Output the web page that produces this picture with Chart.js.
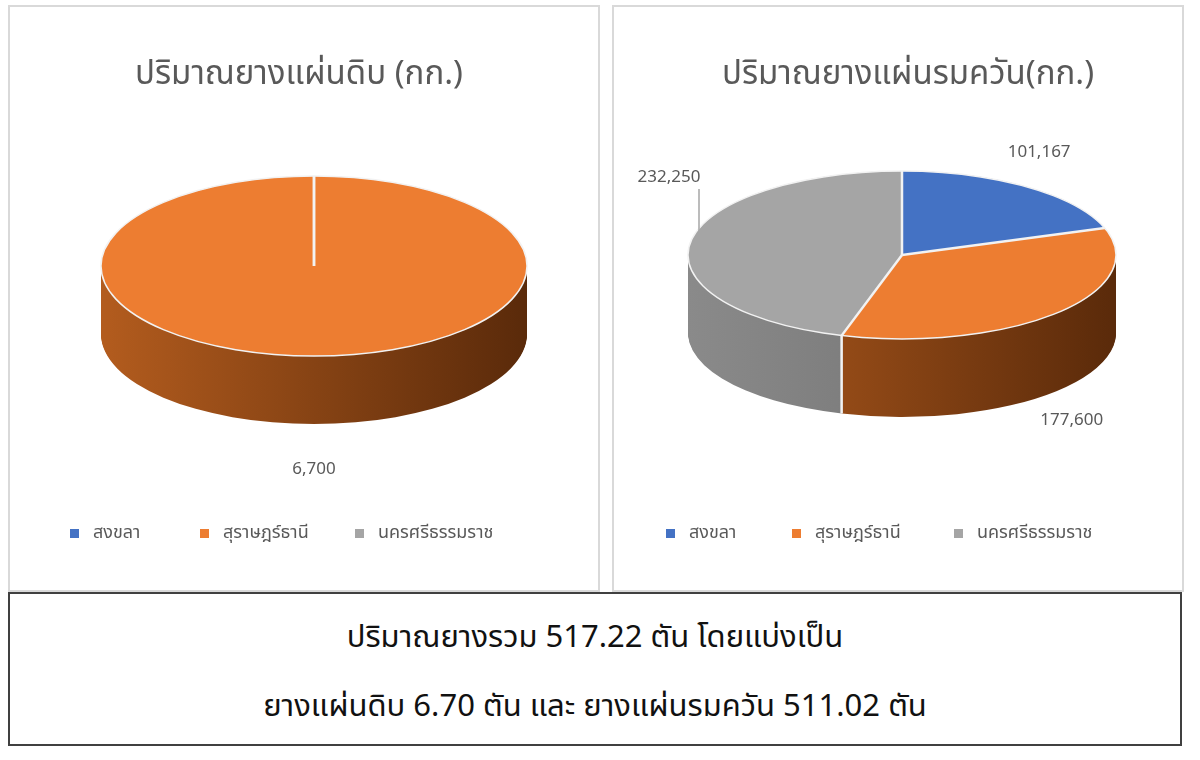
<!DOCTYPE html>
<html><head><meta charset="utf-8">
<script src="https://cdn.jsdelivr.net/npm/chart.js@4/dist/chart.umd.min.js"></script>
<style>
body{margin:0;background:#fff;font-family:"Noto Sans Thai","Noto Sans","DejaVu Sans",sans-serif;}
.box{position:absolute;border:2px solid #d9d9d9;background:#fff;}
.title{position:absolute;left:0;right:0;text-align:center;font-size:33px;color:#595959;}
.legend{position:absolute;top:512px;font-size:18px;color:#595959;}
.legend span{position:absolute;white-space:nowrap;}
.legend i{display:inline-block;width:9px;height:9px;margin-right:14px;vertical-align:middle;}
canvas{position:absolute;left:0;top:0;}
#summary{position:absolute;left:8px;top:592px;width:1170px;height:150px;border:2px solid #404040;text-align:center;font-size:31px;color:#111;}
</style></head><body>
<div class="box" style="left:8px;top:5px;width:588px;height:583px">
  <div style="position:absolute;left:0;top:0;width:588px;height:583px"><canvas id="c1"></canvas></div>
  <div class="title" style="top:42px;right:10px">ปริมาณยางแผ่นดิบ (กก.)</div>
  <div class="legend" id="l1"></div>
</div>
<div class="box" style="left:612px;top:5px;width:568px;height:583px">
  <div style="position:absolute;left:0;top:0;width:568px;height:583px"><canvas id="c2"></canvas></div>
  <div class="title" style="top:42px;left:20px">ปริมาณยางแผ่นรมควัน(กก.)</div>
  <div class="legend" id="l2"></div>
</div>
<div id="summary"><div style="margin-top:20px">ปริมาณยางรวม 517.22 ตัน โดยแบ่งเป็น</div><div style="margin-top:22px">ยางแผ่นดิบ 6.70 ตัน และ ยางแผ่นรมควัน 511.02 ตัน</div></div>
<script>
const provinces = ["สงขลา", "สุราษฎร์ธานี", "นครศรีธรรมราช"];
const rawSheet = [0, 6700, 0];
const smokedSheet = [101167, 177600, 232250];
const colors = ["#4472c4", "#ed7d31", "#a5a5a5"];
const sideLight = ["#2f528f", "#b35c1e", "#8a8a8a"];
const sideDark = ["#1f3864", "#5a2a0a", "#6a6a6a"];

function legend(id, xs){
  const el=document.getElementById(id);
  provinces.forEach((p,i)=>{const s=document.createElement('span');s.style.left=xs[i]+'px';
    s.innerHTML='<i style="background:'+colors[i]+'"></i>'+p;el.appendChild(s);});
}
legend('l1',[60,190,345]); legend('l2',[52,178,340]);

const pie3d = {
  id:'pie3d',
  beforeDatasetsDraw(chart, args, o){
    const ctx=chart.ctx, meta=chart.getDatasetMeta(0);
    const a0=meta.data[0]; const cx=a0.x, cy=a0.y, r=a0.outerRadius;
    const k=o.ry/r, depth=o.depth;
    const tx=o.cx, ty=o.cy;
    ctx.save();
    ctx.translate(tx, ty); ctx.scale(1,k); ctx.translate(-cx,-cy);
    for(let d=depth; d>0; d-=1){
      ctx.save(); ctx.translate(0, d/k);
      meta.data.forEach((el,i)=>{
        if(el.circumference<=0) return;
        const g=ctx.createLinearGradient(cx-r,0,cx+r,0);
        g.addColorStop(0,sideLight[i]); g.addColorStop(1,sideDark[i]);
        el.options.backgroundColor=g; el.options.borderWidth=0; el.draw(ctx);
      });
      ctx.restore();
    }
    meta.data.forEach((el,i)=>{ if(el.circumference<=0) return; el.options.backgroundColor=colors[i]; el.draw(ctx); });
    ctx.restore();
    ctx.save(); ctx.strokeStyle='#f2f2f2'; ctx.lineWidth=2.5;
    const seen=new Set();
    meta.data.forEach(el=>{
      const a=el.startAngle; const key=a.toFixed(4); if(seen.has(key)) return; seen.add(key);
      const ex=tx+Math.cos(a)*r, ey=ty+Math.sin(a)*o.ry;
      ctx.beginPath(); ctx.moveTo(tx,ty); ctx.lineTo(ex,ey);
      if(Math.sin(a)>0){ ctx.lineTo(ex,ey+depth); }
      ctx.stroke();
    });
    ctx.beginPath(); ctx.ellipse(tx,ty,r,o.ry,0,0,Math.PI*2); ctx.lineWidth=1.5; ctx.stroke();
    ctx.restore();
    ctx.save(); ctx.fillStyle='#595959'; ctx.font='17px "Noto Sans","DejaVu Sans",sans-serif'; ctx.textAlign='center'; ctx.textBaseline='middle';
    const data=chart.data.datasets[0].data;
    meta.data.forEach((el,i)=>{
      if(!data[i]) return;
      const m=(el.startAngle+el.endAngle)/2;
      let x=tx+Math.cos(m)*r*1.1, y=ty+Math.sin(m)*o.ry*1.5+(Math.sin(m)>0?depth:0);
      if(o.lift && o.lift[i]) y+=o.lift[i];
      ctx.fillText(data[i].toLocaleString('en-US'), x, y);
      if(o.leader && o.leader[i]){ctx.strokeStyle='#a6a6a6';ctx.lineWidth=1.5;ctx.beginPath();ctx.moveTo(x+30,y+12);ctx.lineTo(x+30,y+55);ctx.stroke();}
    });
    ctx.restore();
    return false;
  }
};

function make(id, data, opts){
  new Chart(document.getElementById(id), {
    type:'pie',
    data:{labels:provinces, datasets:[{data, backgroundColor:colors, borderWidth:0}]},
    options:{responsive:true, maintainAspectRatio:false, animation:false, radius:opts.r,
      plugins:{legend:{display:false}, tooltip:{enabled:false}, pie3d:opts}},
    plugins:[pie3d]
  });
}
make('c1', rawSheet, {r:213, cx:304, cy:259, ry:90, depth:68});
make('c2', smokedSheet, {r:214, cx:288, cy:248, ry:84, depth:78, lift:{2:-60}, leader:{2:true}});
</script>
</body></html>
